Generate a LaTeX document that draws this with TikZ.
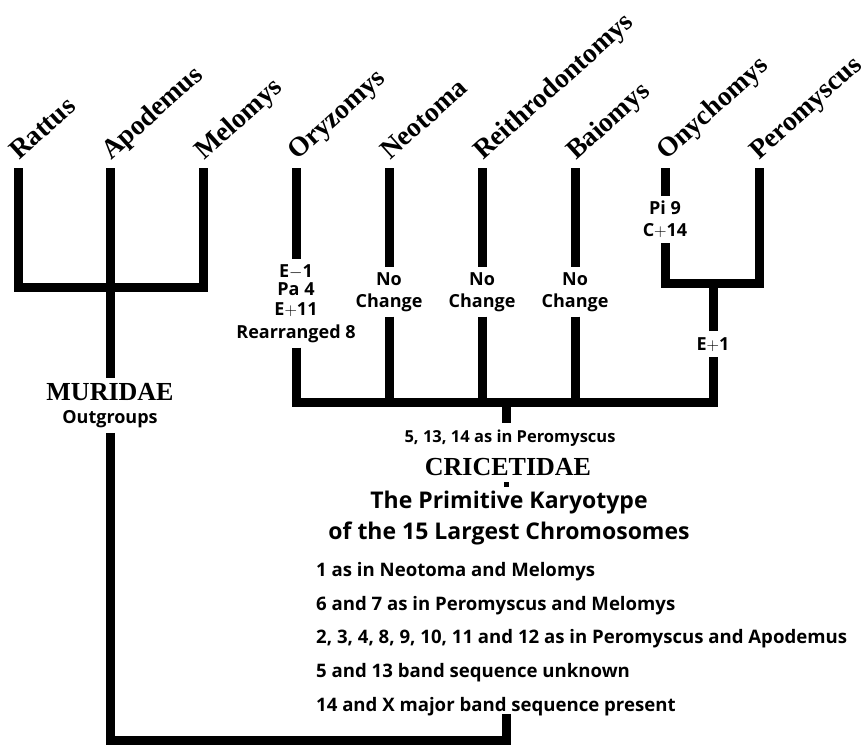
\documentclass[tikz,border=0pt]{standalone}
\usepackage{fontspec}
\setmainfont{Liberation Serif}
\newfontfamily\osans{Open Sans}

\begin{document}
\begin{tikzpicture}[x=1pt, y=-1pt,
  branch/.style={line width=9pt, line join=miter},
  taxon/.style={rotate=42, anchor=base west, inner sep=0pt, font=\bfseries\fontsize{27.5}{28}\selectfont},
  change/.style={align=center, anchor=north, inner sep=5pt, font=\osans\bfseries\fontsize{18}{21}\selectfont},
  family/.style={align=center, inner sep=5pt, font=\bfseries\fontsize{26}{26}\selectfont},
  note/.style={inner sep=0pt, font=\osans\bfseries\fontsize{18.6}{33.8}\selectfont}]
\useasboundingbox (0,0) rectangle (867,745);

% Tips
\coordinate (rat) at (18,168);
\coordinate (apo) at (110,168);
\coordinate (mel) at (203,168);
\coordinate (ory) at (296,168);
\coordinate (neo) at (389,168);
\coordinate (rei) at (482,168);
\coordinate (bai) at (575,168);
\coordinate (ony) at (665,168);
\coordinate (per) at (759,168);

% Genera
\node[taxon] (ratN) at (19,161) {Rattus};
\node[taxon] (apoN) at (111,161) {Apodemus};
\node[taxon] (melN) at (204,161) {Melomys};
\node[taxon] (oryN) at (297,161) {Oryzomys};
\node[taxon] (neoN) at (390,161) {Neotoma};
\node[taxon] (reiN) at (483,161) {Reithrodontomys};
\node[taxon] (baiN) at (576,161) {Baiomys};
\node[taxon] (onyN) at (666,161) {Onychomys};
\node[taxon] (perN) at (759,161) {Peromyscus};

% Muridae
\coordinate (murL) at (18,287);
\coordinate (murR) at (203,287);
\node[family, anchor=north] (muridae) at (110,378) {MURIDAE\\[-3pt]{\osans\fontsize{18}{20}\selectfont Outgroups}};
\draw[branch] (rat) -- (murL) -- (murR) -- (mel);
\draw[branch] (apo) -- (muridae.north);

% Changes on the branches
\node[change] (oryC) at (296,259) {E$-$1\\[-3pt]Pa 4\\[-1pt]E$+$11\\[2pt]Rearranged 8};
\node[change] (neoC) at (389,267) {No\\[1pt]Change};
\node[change] (reiC) at (482,267) {No\\[1pt]Change};
\node[change] (baiC) at (575,267) {No\\[1pt]Change};
\node[change] (onyC) at (665,196) {Pi 9\\[1pt]C$+$14};
\node[change, inner ysep=6pt] (e1C) at (713,331) {E$+$1};

% Cricetidae
\coordinate (crL) at (296,402);
\coordinate (crR) at (713,402);
\coordinate (crM) at (506,402);
\coordinate (crStem) at (506,423);
\coordinate (opL) at (665,283);
\coordinate (opR) at (759,283);
\draw[branch] (ory) -- (oryC.north);
\draw[branch] (neo) -- (neoC.north);
\draw[branch] (rei) -- (reiC.north);
\draw[branch] (bai) -- (baiC.north);
\draw[branch] (ony) -- (onyC.north);
\draw[branch] (onyC.south) -- (opL) -- (opR) -- (per);
\draw[branch] (e1C.north) -- (e1C.north |- opL);
\draw[branch] (oryC.south) -- (crL) -- (crR) -- (e1C.south);
\draw[branch] (neoC.south) -- (neoC.south |- crL);
\draw[branch] (reiC.south) -- (reiC.south |- crL);
\draw[branch] (baiC.south) -- (baiC.south |- crL);
\draw[branch] (crM) -- (crStem);

% Primitive karyotype
\node[inner sep=0pt, font=\osans\bfseries\fontsize{16.5}{20}\selectfont] (shared) at (510,438) {5, 13, 14 as in Peromyscus};
\node[family, inner sep=0pt] (cricetidae) at (508,467) {CRICETIDAE};
\node[fill=black, inner sep=0pt, minimum size=5pt] (root) at (506,484) {};
\node[align=center, inner sep=0pt, font=\osans\bfseries\fontsize{23}{31}\selectfont] (karyo) at (509,518) {The Primitive Karyotype\\of the 15 Largest Chromosomes};
\node[note, align=left, anchor=north west] (list) at (316,562) {1 as in Neotoma and Melomys\\
6 and 7 as in Peromyscus and Melomys\\
2, 3, 4, 8, 9, 10, 11 and 12 as in Peromyscus and Apodemus\\
5 and 13 band sequence unknown\\
14 and X major band sequence present};

% Outgroup link
\coordinate (base) at (110,740);
\coordinate (baseR) at (506,740);
\coordinate (listEnd) at (506,714);
\draw[branch] (muridae.south) -- (base) -- (baseR) -- (listEnd);
\end{tikzpicture}
\end{document}
